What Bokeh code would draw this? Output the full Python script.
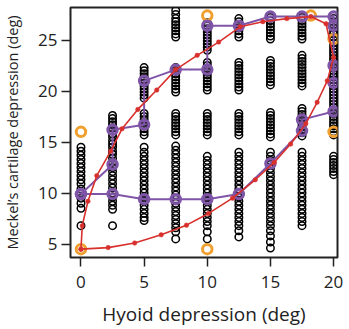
from bokeh.plotting import figure
from bokeh.models import Range1d, FixedTicker
from bokeh.embed import file_html
from bokeh.resources import INLINE

# ---- data ----
col_x = [0, 2.5, 5, 7.5, 10, 12.5, 15, 17.5, 20]

c0 = [14.5, 14.1, 13.7, 13.3, 12.9, 12.5, 12.1, 11.7, 11.3, 10.9, 10.4, 10.0, 9.5, 9.0, 8.5, 6.8]
c2_5 = [17.6, 17.3, 17.0, 16.7, 16.4, 16.1, 15.8, 15.5, 15.1, 14.8, 14.5, 14.1, 13.8, 13.4, 13.0,
        12.5, 12.1, 11.7, 11.3, 10.9, 10.5, 10.0, 9.6, 9.2, 8.8, 8.4, 6.8]
c5 = [22.3, 22.0, 21.7, 21.4, 21.1, 20.8, 20.5, 20.2, 19.9, 19.6, 19.3,
      17.8, 17.5, 17.2, 16.9, 16.6, 16.3, 16.0, 15.7,
      14.5, 14.0, 13.6, 13.2, 12.8, 12.4, 12.0, 11.6, 11.2, 10.8, 10.4, 10.0, 9.6, 9.2, 8.8,
      8.4, 8.0, 7.6, 7.3]
c7_5 = [27.9, 27.5, 27.1, 26.8, 26.5, 26.2, 25.9, 25.6, 25.3,
        22.3, 22.0, 21.7, 21.4, 21.1, 20.8, 20.5, 20.2, 19.9,
        17.8, 17.5, 17.2, 16.9, 16.6, 16.3, 16.0, 15.7,
        14.6, 14.2, 13.8, 13.4, 13.0, 12.6, 12.2, 11.8, 11.4, 11.0, 10.6, 10.2, 9.8, 9.4,
        9.0, 8.6, 8.2, 7.8, 7.4, 7.0, 6.6, 6.2, 5.5]
c10 = [26.7, 26.4, 26.1, 25.8, 25.5, 25.2, 24.9, 24.6, 24.3, 24.0,
       22.8, 22.5, 22.2, 21.9, 21.6, 21.3, 21.0, 20.7, 20.4, 20.1,
       17.8, 17.5, 17.2, 16.9, 16.6, 16.3, 16.0, 15.7,
       13.6, 13.2, 12.8, 12.4, 12.0, 11.6, 11.2, 10.8, 10.4, 10.0, 9.6, 9.2, 8.8, 8.4,
       8.0, 7.6, 7.2, 6.8, 6.2, 5.5]
c12_5 = [27.1, 26.8, 26.5, 26.2, 25.9, 25.6, 25.3,
         22.8, 22.5, 22.2, 21.9, 21.6, 21.3, 21.0, 20.7, 20.4, 20.1,
         17.8, 17.5, 17.2, 16.9, 16.6, 16.3, 16.0, 15.7,
         14.0, 13.6, 13.2, 12.8, 12.4, 12.0, 11.6, 11.2, 10.8, 10.4, 10.0, 9.6, 9.2, 8.8,
         8.4, 8.0, 7.6, 7.2, 6.8, 6.3, 5.7]
c15 = [27.2, 26.9, 26.6, 26.3, 26.0, 25.7, 25.4, 25.1,
       23.0, 22.7, 22.4, 22.1, 21.8, 21.5, 21.2, 20.9, 20.6,
       17.9, 17.6, 17.3, 17.0, 16.7, 16.4, 16.1, 15.8, 15.5,
       14.0, 13.6, 13.2, 12.8, 12.4, 12.0, 11.6, 11.2, 10.8, 10.4, 10.0, 9.6, 9.2, 8.8,
       8.4, 8.0, 7.6, 7.2, 6.8, 6.3, 5.8, 5.2, 4.6]
c17_5 = [27.2, 26.9, 26.6, 26.3, 26.0, 25.7, 25.4, 25.1,
         23.5, 23.2, 22.9, 22.6, 22.3, 22.0, 21.7, 21.4, 21.1, 20.8, 20.5,
         18.3, 18.0, 17.7, 17.4, 17.1, 16.8, 16.5, 16.2, 15.9, 15.6,
         14.0, 13.6, 13.2, 12.8, 12.4, 12.0, 11.6, 11.2, 10.8, 10.4, 10.0, 9.6, 9.2, 8.8,
         8.4, 8.0, 7.6, 7.2, 6.8]
c20 = [27.4, 27.1, 26.8, 26.5, 26.2, 25.9, 25.6, 25.3, 25.0, 24.7, 24.4, 24.1, 23.8, 23.5,
       23.2, 22.9, 22.6, 22.3, 22.0, 21.7, 21.4, 21.1, 20.8, 20.5, 20.2, 19.9, 19.6, 19.3,
       19.0, 18.7, 18.4, 18.1, 17.8, 17.5, 17.2, 16.9, 16.6, 16.3, 16.0, 15.7,
       13.6, 13.3, 13.0, 12.7, 12.4, 12.1, 11.8]
col_y = [c0, c2_5, c5, c7_5, c10, c12_5, c15, c17_5, c20]

# red trajectory (dots)
red_x = [0, 2.15, 4.25, 6.35, 8.35, 10.1, 12.0, 13.8, 15.3, 16.6, 17.8, 18.7, 19.5, 20.0,
         19.4, 18.2, 16.3, 14.4, 12.6, 10.9, 9.2, 7.5, 6.0, 4.5, 3.25, 2.35, 1.25, 0.55, 0.1, 0]
red_y = [4.5, 4.65, 5.1, 5.9, 6.85, 8.0, 9.5, 11.3, 13.0, 14.8, 16.8, 18.9, 21.0, 23.3,
         26.6, 27.3, 27.1, 26.8, 26.3, 24.8, 23.5, 22.1, 20.1, 18.2, 16.3, 14.1, 11.7, 9.2, 6.8, 4.5]

# purple path
pur_x = [0, 2.5, 2.5, 5, 5, 7.5, 10, 10, 12.5, 15, 17.5, 20, 20, 20, 20, 20,
         17.5, 17.5, 15, 12.5, 10, 7.5, 5, 2.5, 0]
pur_y = [9.9, 12.8, 16.2, 16.7, 21.0, 22.1, 22.1, 26.4, 26.4, 27.3, 27.3, 27.3, 26.4, 22.5,
         20.8, 18.0, 17.2, 16.1, 12.9, 9.9, 9.4, 9.4, 9.4, 9.9, 9.9]

# orange extreme points
ora_x = [0, 0, 10, 10, 18.2, 20, 20]
ora_y = [16.0, 4.5, 27.4, 4.5, 27.4, 25.1, 16.0]

x_ticks = [0, 5, 10, 15, 20]
y_ticks = [5, 10, 15, 20, 25]

# ---- figure ----
p = figure(width=349, height=329, output_backend="svg", toolbar_location=None,
           x_range=Range1d(-0.83, 20.31), y_range=Range1d(3.68, 28.19),
           min_border_left=70, min_border_right=12, min_border_top=7, min_border_bottom=72)
p.background_fill_color = "white"
p.border_fill_color = "white"
p.grid.visible = False
p.outline_line_color = "#222222"
p.outline_line_width = 2

bx, by = [], []
for xv, ys in zip(col_x, col_y):
    for yv in ys:
        bx.append(xv)
        by.append(yv)
p.scatter(bx, by, marker="circle", size=7.5, fill_color=None, line_color="black", line_width=1.5)

p.scatter(ora_x, ora_y, marker="circle", size=9.5, fill_color=None, line_color="#f0a030", line_width=3)

PUR = "#7f55a8"
p.line(pur_x, pur_y, line_color=PUR, line_width=2)
p.scatter(pur_x, pur_y, marker="circle", size=9.5, fill_color=PUR, fill_alpha=0.35,
          line_color=PUR, line_width=3)

RED = "#d8302c"
p.line(red_x, red_y, line_color=RED, line_width=1.6)
p.scatter(red_x, red_y, marker="circle", size=4.5, fill_color=RED, line_color=RED, line_width=0.5)

FONT = "Open Sans"
for ax in (p.xaxis[0], p.yaxis[0]):
    ax.axis_line_color = None
    ax.major_tick_out = 9
    ax.major_tick_in = 0
    ax.major_tick_line_width = 1.5
    ax.major_tick_line_color = "#222222"
    ax.minor_tick_line_color = None
    ax.major_label_text_font = FONT
    ax.major_label_text_font_size = "17px"
    ax.major_label_text_color = "#222222"
    ax.axis_label_text_font = FONT
    ax.axis_label_text_font_style = "normal"
    ax.axis_label_text_color = "#222222"

p.xaxis[0].ticker = FixedTicker(ticks=x_ticks)
p.yaxis[0].ticker = FixedTicker(ticks=y_ticks)
p.xaxis[0].axis_label = "Hyoid depression (deg)"
p.yaxis[0].axis_label = "Meckel\u2019s cartilage depression (deg)"
p.xaxis[0].axis_label_text_font_size = "19px"
p.yaxis[0].axis_label_text_font_size = "14.5px"
p.xaxis[0].major_label_standoff = 9
p.yaxis[0].major_label_standoff = 4
p.xaxis[0].axis_label_standoff = 10
p.yaxis[0].axis_label_standoff = 13

open("out.html", "w").write(file_html(p, INLINE))
